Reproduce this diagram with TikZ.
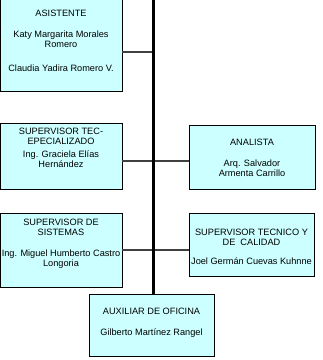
\documentclass[tikz,border=0pt]{standalone}
\usepackage{fontspec}
\setmainfont{Liberation Sans}
\usetikzlibrary{
    positioning,
    shadows
}
\definecolor{boxcyan}{HTML}{CCFFFF}
\tikzset{
    % Colors
    box color/.style={fill=boxcyan},
    link color/.style={black!75},
    %
    % Boxes and texts
    chart box/.style={box color,draw=black,line width=.8pt,inner sep=0pt,
        drop shadow={shadow xshift=1pt,shadow yshift=-1pt,fill=black!35,opacity=1}},
    box text/.style={inner sep=0pt,align=center,font=\fontsize{9.2}{10}\selectfont},
    %
    % Lines
    trunk/.style={line width=2.6pt},
    link/.style={link color,line width=1.8pt}
}

\begin{document}
\begin{tikzpicture}[x=1pt,y=-1pt]
    \useasboundingbox (0,0) rectangle (323,360);
    % boxes
    \node[chart box,minimum width=122pt,minimum height=99pt] (asist) at (61,41.5) {};
    \node[chart box,minimum width=122pt,minimum height=66pt] (suptec) at (61,156) {};
    \node[chart box,minimum width=126pt,minimum height=64pt] (analista) at (252,157) {};
    \node[chart box,minimum width=122pt,minimum height=74pt] (supsis) at (61,250) {};
    \node[chart box,minimum width=125pt,minimum height=63pt] (supcal) at (251.5,244.5) {};
    \node[chart box,minimum width=125pt,minimum height=62pt] (aux) at (151.5,325) {};
    % texts
    \node[box text,below=18pt of asist.north] (asist text) {ASISTENTE\\[11pt]Katy Margarita Morales\\Romero\\[14pt]Claudia Yadira Romero V.};
    \node[box text,below=5pt of suptec.north] (suptec text) {SUPERVISOR TEC-\\EPECIALIZADO\\[3pt]Ing. Graciela Elías\\Hernández};
    \node[box text,below=14pt of analista.north] (analista text) {ANALISTA\\[11pt]Arq. Salvador\\Armenta Carrillo};
    \node[box text,below=6pt of supsis.north] (supsis text) {SUPERVISOR DE\\SISTEMAS\\[11pt]Ing. Miguel Humberto Castro\\Longoria};
    \node[box text,below=16pt of supcal.north] (supcal text) {SUPERVISOR TECNICO Y\\DE\ \ CALIDAD\\[9pt]Joel Germán Cuevas Kuhnne};
    \node[box text,below=14pt of aux.north] (aux text) {AUXILIAR DE OFICINA\\[11pt]Gilberto Martínez Rangel};
    % trunk and links
    \coordinate (top) at (153.5,-3);
    \coordinate (j1) at (153.5,52);
    \coordinate (j2) at (153.5,161);
    \coordinate (j3) at (153.5,250);
    \draw[link] (asist.east |- j1) -- (j1);
    \draw[link] (suptec.east |- j2) -- (analista.west |- j2);
    \draw[link] (supsis.east |- j3) -- (supcal.west |- j3);
    \draw[trunk] (top) -- (top |- aux.north);
\end{tikzpicture}
\end{document}
